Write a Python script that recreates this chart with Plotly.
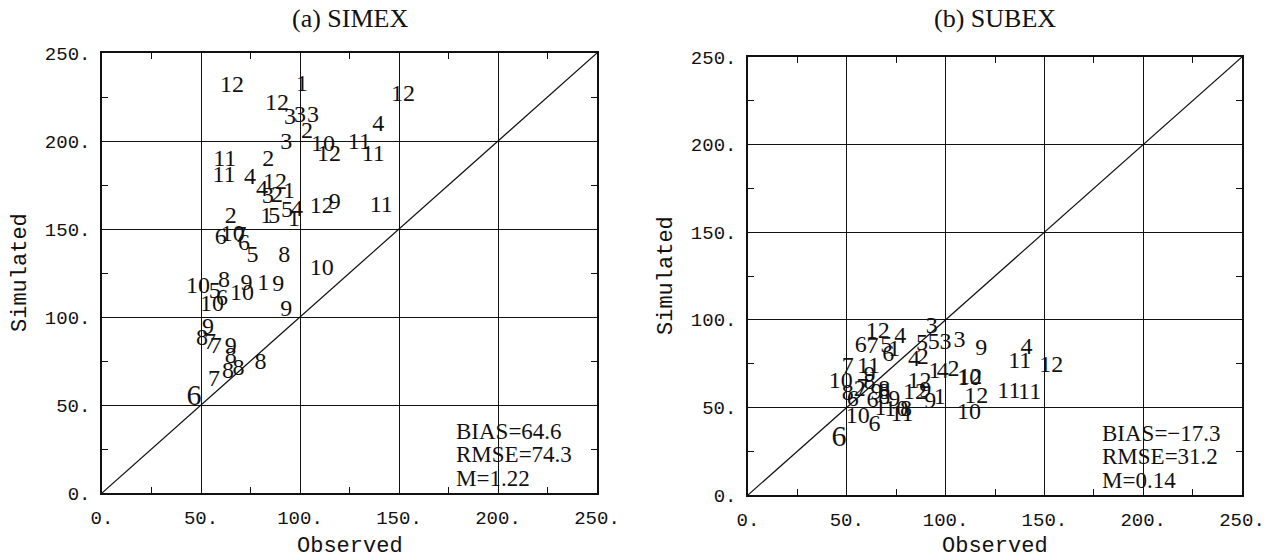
import plotly.graph_objects as go

# ---- SIMEX: observed vs simulated, labelled by month ----
simex_obs = [65.7, 101, 152, 88.4, 95, 100, 106.6, 103.5, 93, 111.6, 114.6, 130, 137, 139.5,
             62, 84, 61.6, 74.7, 87.4, 80.8, 83.8, 88.4, 94.4, 111, 117.5, 141, 93.4, 98.5,
             97, 83, 87, 65, 60, 66, 70, 71.7, 76, 92, 111, 48.5, 61.6, 73, 81.5, 89, 70.7,
             57, 60.6, 55.5, 93, 53.5, 50.5, 54.5, 57.5, 65, 65, 80, 69, 63.6, 56.6, 46.5]
simex_sim = [231, 232, 226, 221, 213, 214, 214, 205, 199, 198, 192, 199, 192, 209,
             189, 189, 180, 179, 176, 172, 168, 169, 171, 162.5, 165, 163, 160, 161,
             155, 157, 157, 157, 145, 146.5, 146, 141.5, 134.5, 134.5, 127, 117, 120.5, 119, 119, 118, 113,
             114, 110, 107, 104, 94, 87.5, 85, 83, 83, 77, 74, 70.5, 69, 64, 54.5]
simex_month = [12, 1, 12, 12, 3, 3, 3, 2, 3, 10, 12, 11, 11, 4,
               11, 2, 11, 4, 12, 4, 3, 2, 1, 12, 9, 11, 5, 4,
               1, 1, 5, 2, 6, 10, 7, 6, 5, 8, 10, 10, 8, 9, 1, 9, 10,
               5, 6, 10, 9, 9, 8, 7, 7, 9, 8, 8, 8, 8, 7, 6]

# ---- SUBEX: observed vs simulated, labelled by month ----
subex_obs = [93, 65.7, 77, 57, 63, 70, 74, 71, 88, 94, 100, 107, 118, 141, 137.5, 153.5,
             50.5, 61, 88.4, 84, 94.4, 98.5, 104, 112, 112.5, 115.5, 111.8, 132, 142.5,
             86.8, 89.7, 84.5, 92.2, 97, 47, 50.5, 56.5, 58, 53, 61.5, 61.5, 65, 69, 69,
             74, 63, 69, 67, 75, 80, 77.9, 64, 55.5, 46]
subex_sim = [96, 93, 90, 85, 84.5, 85, 83, 80, 86, 86.5, 86.5, 88, 83.6, 84, 76, 73.5,
             73, 73, 78, 77, 70, 70, 71.6, 66, 67, 56, 46.8, 59, 58,
             64.5, 59.2, 58, 53, 55.4, 64.5, 57.8, 60, 61, 54.4, 67.8, 64, 58.3, 60, 55.4,
             54.4, 53.4, 58, 49, 48.7, 48.7, 45.4, 40, 44.5, 32.5]
subex_month = [3, 12, 4, 6, 7, 5, 1, 6, 5, 5, 3, 3, 9, 4, 11, 12,
               7, 11, 2, 4, 1, 4, 2, 10, 12, 12, 10, 11, 11,
               12, 9, 12, 9, 1, 10, 8, 2, 7, 6, 9, 8, 9, 8, 8,
               9, 6, 8, 1, 10, 8, 11, 6, 10, 6]

stats_a = ["BIAS=64.6", "RMSE=74.3", "M=1.22"]
stats_b = ["BIAS=\u221217.3", "RMSE=31.2", "M=0.14"]
stats_y = [35, 22, 8.5]

titles = ["(a) SIMEX", "(b) SUBEX"]
ticks = [0, 50, 100, 150, 200, 250]
tick_text = ["0.", "50.", "100.", "150.", "200.", "250."]
minor_ticks = [25, 75, 125, 175, 225]

SERIF = "Liberation Serif"
MONO = "Liberation Mono"
INK = "#111111"

fig = go.Figure()


def month_sizes(obs, sim, months):
    # the low-lying June point is printed in a larger type
    return [30 if (m == 6 and o < 50) else 24 for o, s, m in zip(obs, sim, months)]


panels = [
    ("x", "y", simex_obs, simex_sim, simex_month, stats_a),
    ("x2", "y2", subex_obs, subex_sim, subex_month, stats_b),
]

for xa, ya, obs, sim, months, stats in panels:
    # 1:1 reference line
    fig.add_trace(go.Scatter(x=[0, 250], y=[0, 250], mode="lines",
                             line=dict(color=INK, width=1.2),
                             xaxis=xa, yaxis=ya, hoverinfo="skip", showlegend=False))
    fig.add_trace(go.Scatter(x=obs, y=sim, mode="text",
                             text=[str(m) for m in months],
                             textposition="middle center",
                             textfont=dict(family=SERIF, size=month_sizes(obs, sim, months), color=INK),
                             xaxis=xa, yaxis=ya, showlegend=False))
    for txt, yy in zip(stats, stats_y):
        fig.add_annotation(x=178, y=yy, xref=xa, yref=ya, text=txt, showarrow=False,
                           xanchor="left", yanchor="middle",
                           font=dict(family=SERIF, size=23, color=INK))

axis_common = dict(
    range=[0, 250], tickvals=ticks, ticktext=tick_text,
    showgrid=True, gridcolor=INK, gridwidth=1,
    zeroline=False, showline=True, linecolor=INK, linewidth=1.5,
    mirror="allticks", ticks="", ticklabelstandoff=6,
    tickfont=dict(family=MONO, size=19, color=INK),
    minor=dict(tickvals=minor_ticks, ticks="inside", ticklen=6, tickcolor=INK, tickwidth=1, showgrid=False),
    fixedrange=True, automargin=False,
)

fig.update_layout(
    width=1278, height=560,
    margin=dict(l=0, r=0, t=0, b=0),
    paper_bgcolor="white", plot_bgcolor="white",
    xaxis=dict(domain=[102 / 1278, 597 / 1278], anchor="y", **axis_common),
    yaxis=dict(domain=[67 / 560, 507 / 560], anchor="x", **axis_common),
    xaxis2=dict(domain=[748 / 1278, 1242 / 1278], anchor="y2", **axis_common),
    yaxis2=dict(domain=[65 / 560, 503 / 560], anchor="x2", **axis_common),
)

# panel titles and axis titles
for cx, title in zip([349.5, 995], titles):
    fig.add_annotation(x=cx / 1278, y=1 - 18 / 560, xref="paper", yref="paper", text=title,
                       xanchor="center", yanchor="middle",
                       showarrow=False, font=dict(family=SERIF, size=26, color=INK))
    fig.add_annotation(x=cx / 1278, y=1 - 546 / 560, xref="paper", yref="paper", text="Observed",
                       xanchor="center", yanchor="middle",
                       showarrow=False, font=dict(family=MONO, size=22, color=INK))
for sx, cy in zip([20, 666], [273, 276]):
    fig.add_annotation(x=sx / 1278, y=1 - cy / 560, xref="paper", yref="paper", text="Simulated",
                       xanchor="center", yanchor="middle",
                       textangle=-90, showarrow=False, font=dict(family=MONO, size=22, color=INK))

fig.write_html("out.html")
